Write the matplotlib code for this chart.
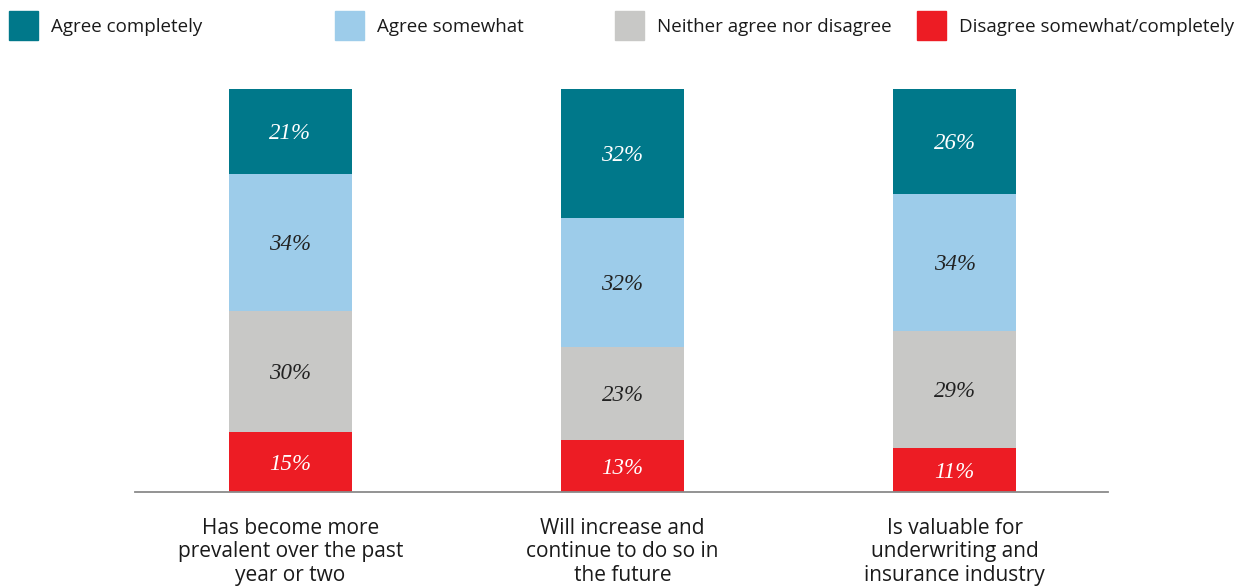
import numpy as np
import matplotlib.pyplot as plt
from matplotlib.patches import Rectangle

categories = ['Has become more\nprevalent over the past\nyear or two',
              'Will increase and\ncontinue to do so in\nthe future',
              'Is valuable for\nunderwriting and\ninsurance industry']
series = ['Disagree somewhat/completely', 'Neither agree nor disagree',
          'Agree somewhat', 'Agree completely']
disagree = [15, 13, 11]
neither = [30, 23, 29]
agree_some = [34, 32, 34]
agree_full = [21, 32, 26]
colors = ['#ED1C24', '#C8C8C6', '#9DCCEA', '#00788A']
label_colors = ['white', '#222222', '#222222', 'white']

W, H = 1247, 587
fig = plt.figure(figsize=(W / 100, H / 100), dpi=100)
ax = fig.add_axes([135 / W, (H - 492) / H, (1108 - 135) / W, (492 - 89) / H])

x = np.arange(len(categories))
bottom = np.zeros(len(categories))
for vals, col, lc in zip([disagree, neither, agree_some, agree_full], colors, label_colors):
    vals = np.array(vals)
    ax.bar(x, vals, bottom=bottom, width=0.37, color=col)
    for xi, b, v in zip(x, bottom, vals):
        ax.text(xi, b + v / 2, f'{v}%', ha='center', va='center_baseline', color=lc,
                fontsize=16.5, style='italic', family='Liberation Serif')
    bottom += vals

ax.set_xlim(-0.468, 2.462)
ax.set_ylim(0, 100)
ax.set_yticks([])
ax.set_xticks(x)
ax.set_xticklabels(categories, fontsize=15, family='Open Sans', color='#1a1a1a',
                   linespacing=1.13)
ax.tick_params(axis='x', length=0, pad=19)
for s in ['top', 'right', 'left']:
    ax.spines[s].set_visible(False)
ax.spines['bottom'].set_color('#8a8a8a')
ax.spines['bottom'].set_linewidth(1.3)

# legend across the top
leg_x = [9, 335, 615, 917]
leg_order = [3, 2, 1, 0]
for lx, i in zip(leg_x, leg_order):
    fig.patches.append(Rectangle((lx / W, (H - 40) / H), 29 / W, 29 / H,
                                 transform=fig.transFigure, color=colors[i]))
    fig.text((lx + 42) / W, (H - 27.5) / H, series[i], va='center', ha='left',
             fontsize=13.5, family='Open Sans', color='#1a1a1a')

fig.savefig('out.png', dpi=100)
